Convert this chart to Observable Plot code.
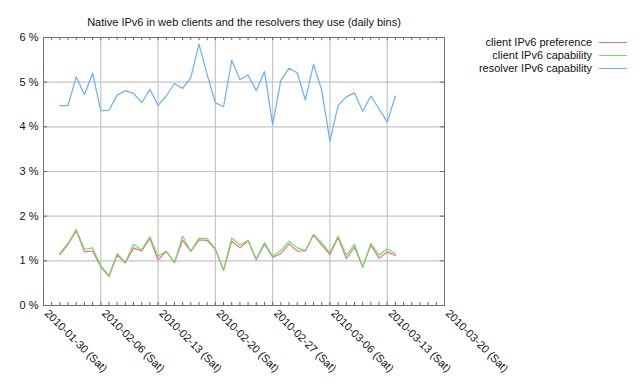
<!DOCTYPE html>
<html><head><meta charset="utf-8">
<script src="https://cdn.jsdelivr.net/npm/d3@7"></script>
<script src="https://cdn.jsdelivr.net/npm/@observablehq/plot@0.6"></script>
<style>
body{margin:0;background:#fff;font-family:"Liberation Sans",Arial,sans-serif;}
#wrap{position:relative;width:640px;height:384px;overflow:hidden;}
#legend{position:absolute;right:13px;top:36px;font-size:11px;color:#111;}
.row{display:flex;align-items:center;justify-content:flex-end;height:13px;line-height:13px;}
.sw{display:inline-block;width:28px;height:0;border-top:1.5px solid;margin-left:7px;}
</style></head><body><div id="wrap"><div id="legend"></div></div>
<script>
const title = "Native IPv6 in web clients and the resolvers they use (daily bins)";
const dates = ["2010-02-01","2010-02-02","2010-02-03","2010-02-04","2010-02-05","2010-02-06","2010-02-07",
  "2010-02-08","2010-02-09","2010-02-10","2010-02-11","2010-02-12","2010-02-13","2010-02-14",
  "2010-02-15","2010-02-16","2010-02-17","2010-02-18","2010-02-19","2010-02-20","2010-02-21",
  "2010-02-22","2010-02-23","2010-02-24","2010-02-25","2010-02-26","2010-02-27","2010-02-28",
  "2010-03-01","2010-03-02","2010-03-03","2010-03-04","2010-03-05","2010-03-06","2010-03-07",
  "2010-03-08","2010-03-09","2010-03-10","2010-03-11","2010-03-12","2010-03-13","2010-03-14"];
const clientPreference = [1.14,1.37,1.67,1.20,1.22,0.86,0.65,1.13,0.95,1.29,1.22,1.50,1.02,1.21,
  0.96,1.46,1.21,1.47,1.46,1.26,0.78,1.44,1.29,1.45,1.02,1.38,1.08,1.16,
  1.38,1.22,1.22,1.58,1.35,1.14,1.52,1.05,1.31,0.86,1.35,1.06,1.20,1.12];
const clientCapability = [1.16,1.40,1.70,1.26,1.29,0.89,0.67,1.16,0.97,1.37,1.25,1.54,1.10,1.22,
  0.96,1.55,1.22,1.51,1.50,1.27,0.80,1.51,1.35,1.46,1.04,1.41,1.10,1.23,
  1.44,1.29,1.23,1.59,1.40,1.18,1.55,1.13,1.37,0.86,1.39,1.13,1.27,1.16];
const resolverCapability = [4.47,4.48,5.12,4.72,5.20,4.36,4.37,4.71,4.81,4.75,4.54,4.84,4.48,4.69,
  4.97,4.86,5.10,5.85,5.17,4.54,4.45,5.49,5.06,5.16,4.81,5.24,4.05,5.04,
  5.31,5.21,4.60,5.40,4.82,3.68,4.48,4.67,4.76,4.35,4.69,4.40,4.11,4.69];
const seriesNames = ["client IPv6 preference","client IPv6 capability","resolver IPv6 capability"];
const seriesColors = ["#f07070","#70dc70","#6aaefc"];
const weekTicks = ["2010-01-30","2010-02-06","2010-02-13","2010-02-20","2010-02-27","2010-03-06","2010-03-13","2010-03-20"];
const yTicks = [0,1,2,3,4,5,6];

const parse = d3.utcParse("%Y-%m-%d");
const seriesValues = [clientPreference, clientCapability, resolverCapability];
const rows = [];
seriesNames.forEach((name, i) => seriesValues[i].forEach((v, j) => rows.push({series: name, date: parse(dates[j]), value: v})));
const weekDates = weekTicks.map(parse);
const x0 = weekDates[0], x1 = weekDates[weekDates.length - 1];
const days = d3.utcDay.range(x0, d3.utcDay.offset(x1, 1));
const fmt = d3.utcFormat("%Y-%m-%d (%a)");
const halfDay = 12 * 3600 * 1000;

const chart = Plot.plot({
  width: 640, height: 384,
  marginLeft: 43, marginRight: 196, marginTop: 37, marginBottom: 79,
  style: {fontFamily: "Liberation Sans, Arial, sans-serif", fontSize: "11px", color: "#111", background: "#fff"},
  x: {type: "utc", domain: [x0, x1], axis: null},
  y: {domain: [0, 6], axis: null},
  color: {domain: seriesNames, range: seriesColors},
  marks: [
    Plot.ruleY(yTicks.slice(1, -1), {stroke: "#c4c4c4", strokeWidth: 1.2}),
    Plot.ruleX(weekDates.slice(1, -1), {stroke: "#c4c4c4", strokeWidth: 1.2}),
    Plot.ruleX(days, {x: d => d, y1: 0, y2: 0.07, stroke: "#666"}),
    Plot.ruleX(days, {x: d => d, y1: 6, y2: 5.93, stroke: "#666"}),
    Plot.ruleY(yTicks, {y: d => d, x1: x0, x2: new Date(+x0 + halfDay), stroke: "#666"}),
    Plot.ruleY(yTicks, {y: d => d, x1: new Date(+x1 - halfDay), x2: x1, stroke: "#666"}),
    Plot.frame({stroke: "#707070", strokeWidth: 1}),
    Plot.line(rows, {x: "date", y: "value", z: "series", stroke: "series", strokeWidth: 1.2}),
    Plot.axisY(yTicks, {tickSize: 0, tickPadding: 5, tickFormat: d => d + " %", label: null, fontSize: 11}),
    Plot.axisX(weekDates, {tickSize: 0, tickPadding: 6, dx: 3, tickRotate: 45, tickFormat: fmt, label: null, fontSize: 11}),
    Plot.text([title], {frameAnchor: "top", dy: -19, fontSize: 11, fill: "#111"})
  ]
});
document.getElementById("wrap").prepend(chart);

const legend = document.getElementById("legend");
seriesNames.forEach((name, i) => {
  const row = document.createElement("div");
  row.className = "row";
  const t = document.createElement("span");
  t.textContent = name;
  const sw = document.createElement("span");
  sw.className = "sw";
  sw.style.borderTopColor = seriesColors[i];
  row.append(t, sw);
  legend.append(row);
});
</script></body></html>
